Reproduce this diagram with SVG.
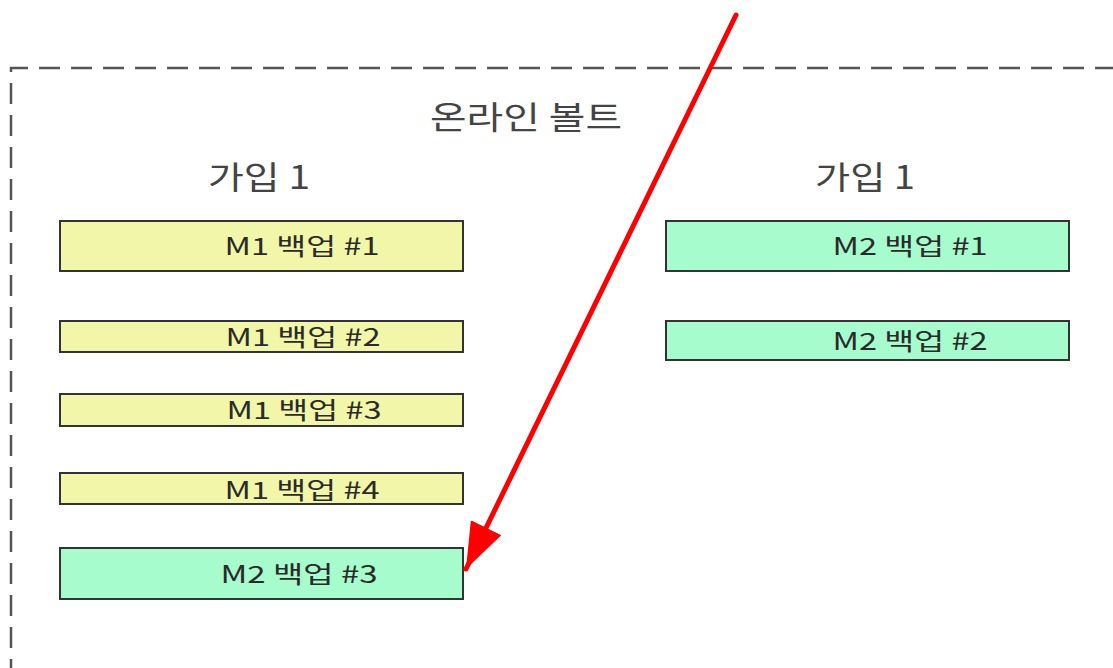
<svg xmlns="http://www.w3.org/2000/svg" width="1113" height="668" viewBox="0 0 1113 668">
<defs>
<style>
.box{stroke:#333;stroke-width:2}
.m1{fill:#f2f6a8}
.m2{fill:#a6fccc}
.lbl{font-family:"Noto Sans CJK KR","Liberation Sans",sans-serif;font-size:24px;fill:#2a2a2a;text-anchor:middle}
.ttl{font-family:"Noto Sans CJK KR","Liberation Sans",sans-serif;font-size:32px;fill:#444;text-anchor:middle}
</style>
<marker id="ah" markerUnits="userSpaceOnUse" markerWidth="50" markerHeight="36" refX="46" refY="17" orient="auto">
<path d="M0,0 L46,17 L0,34 Z" fill="#ff0000"/>
</marker>
</defs>
<rect width="1113" height="668" fill="#fff"/>
<g id="vault">
<path d="M11,680 L11,68 L1120,68" fill="none" stroke="#555" stroke-width="2.5" stroke-dasharray="21,11"/>
<text class="ttl" x="526" y="129" textLength="192" lengthAdjust="spacingAndGlyphs">온라인 볼트</text>
</g>
<g id="sub-left"><text class="ttl" x="259" y="189" textLength="102" lengthAdjust="spacingAndGlyphs">가입 1</text></g>
<g id="sub-right"><text class="ttl" x="865" y="189" textLength="100" lengthAdjust="spacingAndGlyphs">가입 1</text></g>
<g id="m1b1"><rect class="box m1" x="60" y="221" width="403" height="50"/><text class="lbl" x="302" y="255" textLength="155" lengthAdjust="spacingAndGlyphs">M1 백업 #1</text></g>
<g id="m1b2"><rect class="box m1" x="60" y="321" width="403" height="31"/><text class="lbl" x="303" y="346" textLength="155" lengthAdjust="spacingAndGlyphs">M1 백업 #2</text></g>
<g id="m1b3"><rect class="box m1" x="60" y="394" width="403" height="32"/><text class="lbl" x="304" y="419" textLength="155" lengthAdjust="spacingAndGlyphs">M1 백업 #3</text></g>
<g id="m1b4"><rect class="box m1" x="60" y="473" width="403" height="31"/><text class="lbl" x="302" y="499" textLength="155" lengthAdjust="spacingAndGlyphs">M1 백업 #4</text></g>
<g id="m2b3"><rect class="box m2" x="60" y="548" width="403" height="51"/><text class="lbl" x="299" y="583" textLength="157" lengthAdjust="spacingAndGlyphs">M2 백업 #3</text></g>
<g id="m2b1"><rect class="box m2" x="666" y="221" width="403" height="50"/><text class="lbl" x="910" y="255" textLength="155" lengthAdjust="spacingAndGlyphs">M2 백업 #1</text></g>
<g id="m2b2"><rect class="box m2" x="666" y="321" width="403" height="39"/><text class="lbl" x="910" y="350" textLength="155" lengthAdjust="spacingAndGlyphs">M2 백업 #2</text></g>
<g id="connectors">
<line x1="736" y1="15" x2="466" y2="569" stroke="#ff0000" stroke-width="5" stroke-linecap="round" marker-end="url(#ah)"/>
</g>
</svg>
